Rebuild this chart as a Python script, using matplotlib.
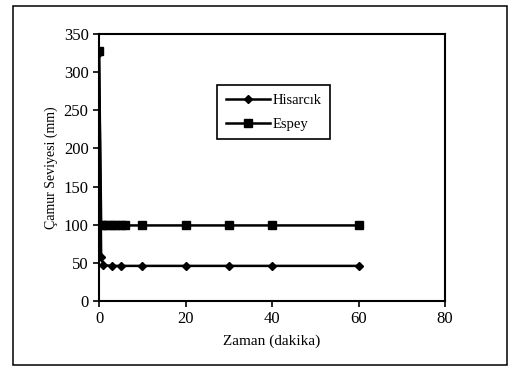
import numpy as np
import matplotlib.pyplot as plt
from matplotlib.patches import Rectangle

# data (time in minutes, level in mm)
t_hisarcik = [0, 0.5, 1, 3, 5, 10, 20, 30, 40, 60]
h_hisarcik = [325, 58, 47, 46, 46, 46, 46, 46, 46, 46]
t_espey = [0, 0.5, 1, 2, 3, 4, 5, 6, 10, 20, 30, 40, 60]
h_espey = [328, 100, 99, 99, 99, 99, 99, 99, 99, 99, 99, 99, 99]

xticks = [0, 20, 40, 60, 80]
yticks = [0, 50, 100, 150, 200, 250, 300, 350]

plt.rcParams['font.family'] = ['Liberation Serif', 'DejaVu Serif']

fig = plt.figure(figsize=(5.09, 3.71), dpi=100)
ax = fig.add_axes([0.1945, 0.1887, 0.68, 0.72])

# outer frame round the whole chart
fig.patches.append(Rectangle((0.0255, 0.016), 0.97, 0.968, transform=fig.transFigure,
                             fill=False, ec='black', lw=1.1))

ax.plot(t_hisarcik, h_hisarcik, color='black', lw=1.8, marker='D', ms=4.5,
        label='Hisarcık')
ax.plot(t_espey, h_espey, color='black', lw=1.8, marker='s', ms=6,
        label='Espey')

ax.set_xlim(0, 80)
ax.set_ylim(0, 350)
ax.set_xticks(xticks)
ax.set_yticks(yticks)
ax.tick_params(direction='out', length=4, width=1.2, labelsize=12, colors='black')
for s in ax.spines.values():
    s.set_linewidth(1.5)

ax.set_xlabel('Zaman (dakika)', fontsize=11, labelpad=5)
ax.set_ylabel('Çamur Seviyesi (mm)', fontsize=10, labelpad=4)

leg = ax.legend(loc='upper left', bbox_to_anchor=(0.32, 0.835), fontsize=10.5,
                fancybox=False, edgecolor='black', framealpha=1,
                handlelength=3, borderpad=0.6, labelspacing=0.7, handletextpad=0.2)
leg.get_frame().set_linewidth(1.2)

fig.savefig('out.png', dpi=100)
